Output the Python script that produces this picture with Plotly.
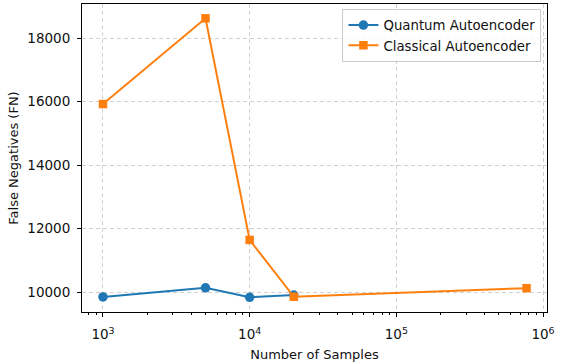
import plotly.graph_objects as go

# data
samples_quantum = [1000, 5000, 10000, 20000]
fn_quantum = [9843, 10130, 9833, 9905]
samples_classical = [1000, 5000, 10000, 20000, 772000]
fn_classical = [15920, 18620, 11640, 9850, 10120]

x_tickvals = [1e3, 1e4, 1e5, 1e6]
x_ticktext = ["10<sup>3</sup>", "10<sup>4</sup>", "10<sup>5</sup>", "10<sup>6</sup>"]
y_tickvals = [10000, 12000, 14000, 16000, 18000]
y_ticktext = ["10000", "12000", "14000", "16000", "18000"]

BLUE = "#1f77b4"
ORANGE = "#ff7f0e"

fig = go.Figure()
fig.add_trace(go.Scatter(
    x=samples_quantum, y=fn_quantum,
    mode="lines+markers",
    line=dict(color=BLUE, width=2),
    marker=dict(symbol="circle", size=9.5, color=BLUE),
    name="Quantum Autoencoder",
))
fig.add_trace(go.Scatter(
    x=samples_classical, y=fn_classical,
    mode="lines+markers",
    line=dict(color=ORANGE, width=2),
    marker=dict(symbol="square", size=8.5, color=ORANGE),
    name="Classical Autoencoder",
))

grid = dict(showgrid=True, gridcolor="rgba(0,0,0,0.18)", griddash="4px,3px", gridwidth=1)

fig.update_layout(
    width=564, height=362,
    margin=dict(l=82, r=17, t=4, b=50),
    paper_bgcolor="white",
    plot_bgcolor="white",
    font=dict(family="DejaVu Sans", size=13, color="#111"),
    xaxis=dict(
        type="log", range=[2.857, 6.027],
        tickvals=x_tickvals, ticktext=x_ticktext,
        tickfont=dict(size=13.5),
        ticks="outside", ticklen=4, tickcolor="black",
        ticklabelstandoff=6,
        minor=dict(ticks="outside", ticklen=2, tickcolor="black", dtick="D1", showgrid=False),
        showline=True, linecolor="black", linewidth=1, mirror=True,
        zeroline=False, automargin=False,
        title=dict(text="Number of Samples", standoff=9, font=dict(size=13)),
        **grid,
    ),
    yaxis=dict(
        range=[9370, 19071],
        tickvals=y_tickvals, ticktext=y_ticktext,
        tickfont=dict(size=13.5),
        ticks="outside", ticklen=4, tickcolor="black",
        ticklabelstandoff=4,
        showline=True, linecolor="black", linewidth=1, mirror=True,
        zeroline=False, automargin=False,
        title=dict(text="False Negatives (FN)", standoff=5, font=dict(size=13)),
        **grid,
    ),
    legend=dict(
        x=0.988, y=0.984, xanchor="right", yanchor="top",
        bgcolor="rgba(255,255,255,0.8)",
        bordercolor="#cccccc", borderwidth=1,
        font=dict(size=13.3),
        itemwidth=30,
        tracegroupgap=0,
    ),
)

# the page body has a default 8px margin; drop it so the figure sits at 0,0
fig.write_html("out.html", config={"displayModeBar": False},
               post_script="document.body.style.margin='0';")
